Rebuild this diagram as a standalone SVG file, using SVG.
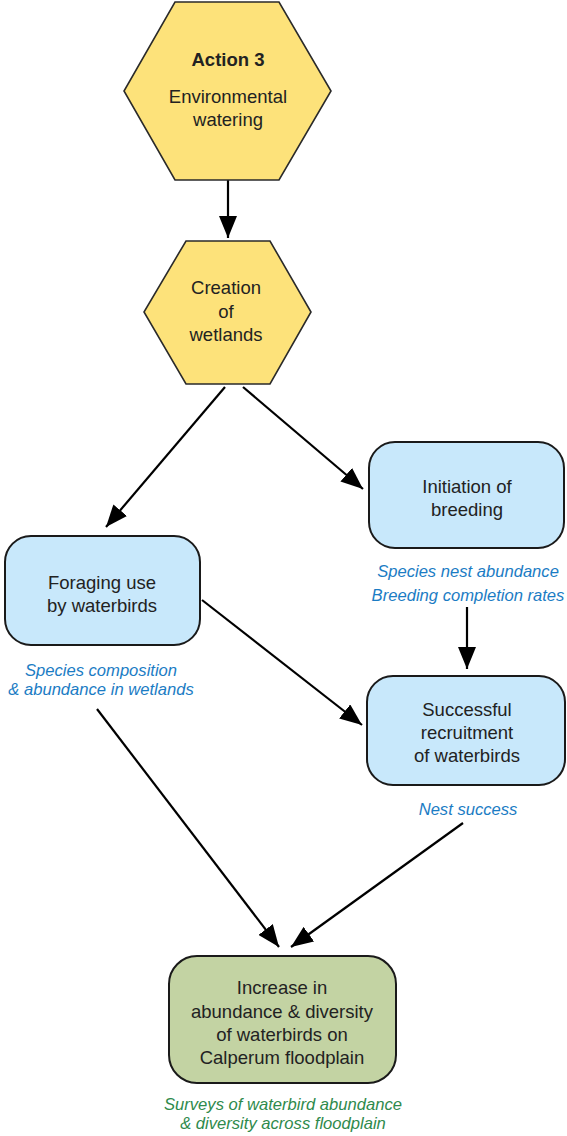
<svg xmlns="http://www.w3.org/2000/svg" width="567" height="1136" viewBox="0 0 567 1136">
<style>
.hex{fill:#fde27a;stroke:#2a2a2a;stroke-width:1.6}
.box{fill:#c8e8fb;stroke:#1a1a1a;stroke-width:2}
.fin{fill:#c3d3a3;stroke:#1a1a1a;stroke-width:2}
.t{font-family:"Liberation Sans",Arial,sans-serif;font-size:18.5px;fill:#222;text-anchor:middle}
.b{font-weight:bold}
.i{font-family:"Liberation Sans",Arial,sans-serif;font-size:16.6px;font-style:italic;fill:#1b7cc4;text-anchor:middle}
.g{fill:#2f8a4c}
.c{stroke:#000;stroke-width:2.2;fill:none;marker-end:url(#ah)}
</style>
<defs>
<marker id="ah" markerUnits="userSpaceOnUse" markerWidth="24" markerHeight="18" refX="22" refY="9" orient="auto">
<path d="M0,0 L22,9 L0,18 Z" fill="#000"/>
</marker>
</defs>
<rect width="567" height="1136" fill="#fff"/>
<g id="connectors">
<line class="c" x1="228" y1="180" x2="228" y2="238"/>
<line class="c" x1="225" y1="387" x2="106" y2="527"/>
<line class="c" x1="243" y1="387" x2="363" y2="489"/>
<line class="c" x1="202" y1="600" x2="362" y2="725"/>
<line class="c" x1="467" y1="607" x2="467" y2="669"/>
<line class="c" x1="97" y1="709" x2="279" y2="947"/>
<line class="c" x1="463" y1="823" x2="291" y2="947"/>
</g>
<g id="action3">
<polygon class="hex" points="175,2 279,2 331,91 279,180 175,180 124,91"/>
<text class="t b" x="228" y="66">Action 3</text>
<text class="t" x="228" y="103">Environmental</text>
<text class="t" x="228" y="126">watering</text>
</g>
<g id="creation">
<polygon class="hex" points="186,241 270,241 311,312 270,384 186,384 144,312"/>
<text class="t" x="226" y="294">Creation</text>
<text class="t" x="226" y="318">of</text>
<text class="t" x="226" y="341">wetlands</text>
</g>
<g id="foraging">
<rect class="box" x="5" y="536" width="195" height="109" rx="26"/>
<text class="t" x="102" y="589">Foraging use</text>
<text class="t" x="102" y="612">by waterbirds</text>
<text class="i" x="101" y="676">Species composition</text>
<text class="i" x="101" y="695">&amp; abundance in wetlands</text>
</g>
<g id="initiation">
<rect class="box" x="369" y="442" width="195" height="106" rx="26"/>
<text class="t" x="467" y="493">Initiation of</text>
<text class="t" x="467" y="516">breeding</text>
<text class="i" x="468" y="577">Species nest abundance</text>
<text class="i" x="468" y="601">Breeding completion rates</text>
</g>
<g id="recruitment">
<rect class="box" x="367" y="676" width="198" height="109" rx="26"/>
<text class="t" x="467" y="716">Successful</text>
<text class="t" x="467" y="739">recruitment</text>
<text class="t" x="467" y="762">of waterbirds</text>
<text class="i" x="468" y="815">Nest success</text>
</g>
<g id="increase">
<rect class="fin" x="169" y="956" width="227" height="127" rx="28"/>
<text class="t" x="282" y="994">Increase in</text>
<text class="t" x="282" y="1018">abundance &amp; diversity</text>
<text class="t" x="282" y="1041">of waterbirds on</text>
<text class="t" x="282" y="1064">Calperum floodplain</text>
<text class="i g" x="283" y="1110">Surveys of waterbird abundance</text>
<text class="i g" x="283" y="1129">&amp; diversity across floodplain</text>
</g>
</svg>
